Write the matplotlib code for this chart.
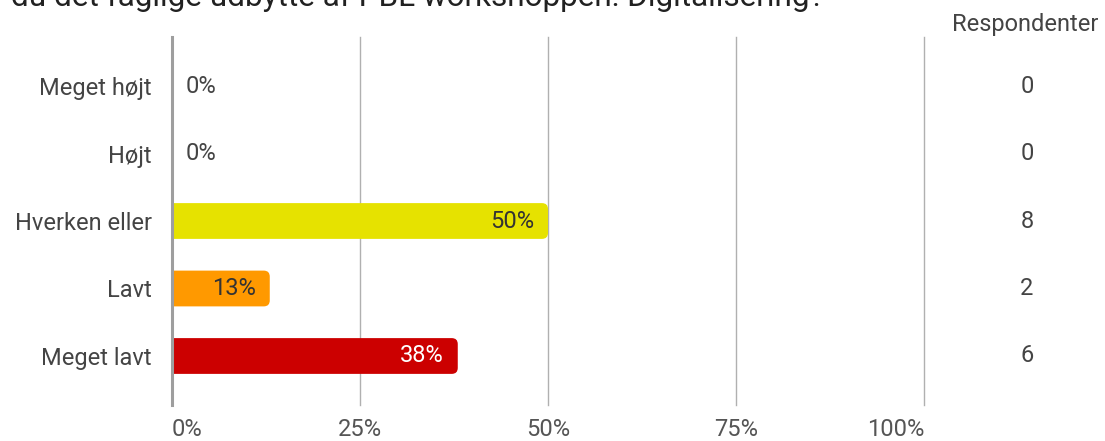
import matplotlib
matplotlib.use("Agg")
import matplotlib.pyplot as plt
from matplotlib.patches import FancyBboxPatch
import matplotlib.transforms as mtransforms

plt.rcParams['font.family'] = ['Roboto', 'DejaVu Sans']

title = "Hvordan vurderer du det faglige udbytte af PBL workshoppen: Digitalisering?"
categories = ["Meget højt", "Højt", "Hverken eller", "Lavt", "Meget lavt"]
percents = [0, 0, 50, 13, 38]
counts = [0, 0, 8, 2, 6]
colors = ["#1f77b4", "#1f77b4", "#e6e200", "#ff9900", "#cc0000"]
label_colors = ["#333333", "#333333", "#333333", "#333333", "#ffffff"]
xticks = [0, 25, 50, 75, 100]
xticklabels = ["0%", "25%", "50%", "75%", "100%"]

W, H = 1105, 441
fig = plt.figure(figsize=(W / 100, H / 100), dpi=100)
ax_left, ax_right = 172, 924
ax_top, ax_bot = 37, 405
ax = fig.add_axes([ax_left / W, 1 - ax_bot / H, (ax_right - ax_left) / W, (ax_bot - ax_top) / H])

n = len(categories)
ax.set_xlim(0, 100)
ax.set_ylim(n - 1 + 0.726, -0.726)

# grid lines
for t in xticks[1:]:
    ax.axvline(t, color="#b0b0b0", lw=1.0, zorder=0, clip_on=False)
ax.axvline(0, color="#9e9e9e", lw=2.2, zorder=3, clip_on=False)

bar_h = 0.53
px_x = (ax_right - ax_left) / 100.0
px_y = (ax_bot - ax_top) / (n - 1 + 2 * 0.726)
r_px = 6
rs = r_px / px_x
aspect = (r_px / px_y) / rs
for i, (v, c) in enumerate(zip(percents, colors)):
    if v <= 0:
        continue
    p = FancyBboxPatch((-3, i - bar_h / 2), v + 3, bar_h,
                       boxstyle=f"round,pad=0,rounding_size={rs}",
                       mutation_aspect=aspect, fc=c, ec="none", zorder=2,
                       clip_on=True)
    ax.add_patch(p)

FS = 17
# value labels
for i, (v, lc) in enumerate(zip(percents, label_colors)):
    if v <= 0:
        ax.text(14 / px_x, i, f"{v}%", ha="left", va="center",
                fontsize=FS, color="#444444", zorder=4)
    else:
        ax.text(v - 14 / px_x, i, f"{v}%", ha="right", va="center",
                fontsize=FS, color=lc, zorder=4)

ax.set_yticks(range(n))
ax.set_yticklabels(categories, fontsize=FS, color="#444444")
ax.set_xticks(xticks)
ax.set_xticklabels(xticklabels, fontsize=FS, color="#555555")
xt = ax.get_xticklabels()
xt[0].set_ha("left")
xt[-1].set_ha("right")
ax.tick_params(axis="y", length=0, pad=14.4)
ax.tick_params(axis="x", length=0, pad=9)
for s in ax.spines.values():
    s.set_visible(False)

# respondent column
trans = mtransforms.blended_transform_factory(fig.transFigure, ax.transData)
cx = 1027 / W
for i, c in enumerate(counts):
    ax.text(cx, i, str(c), transform=trans, ha="center", va="center",
            fontsize=FS, color="#444444", clip_on=False)
fig.text(1025 / W, 1 - 24 / H, "Respondenter", ha="center", va="center",
         fontsize=FS, color="#444444")

# title, cut off at the top of the picture
fig.text(824 / W, 1 - 6.5 / H, title, ha="right", va="baseline",
         fontsize=22.7, color="#212121")

fig.savefig("out.png", dpi=100)
